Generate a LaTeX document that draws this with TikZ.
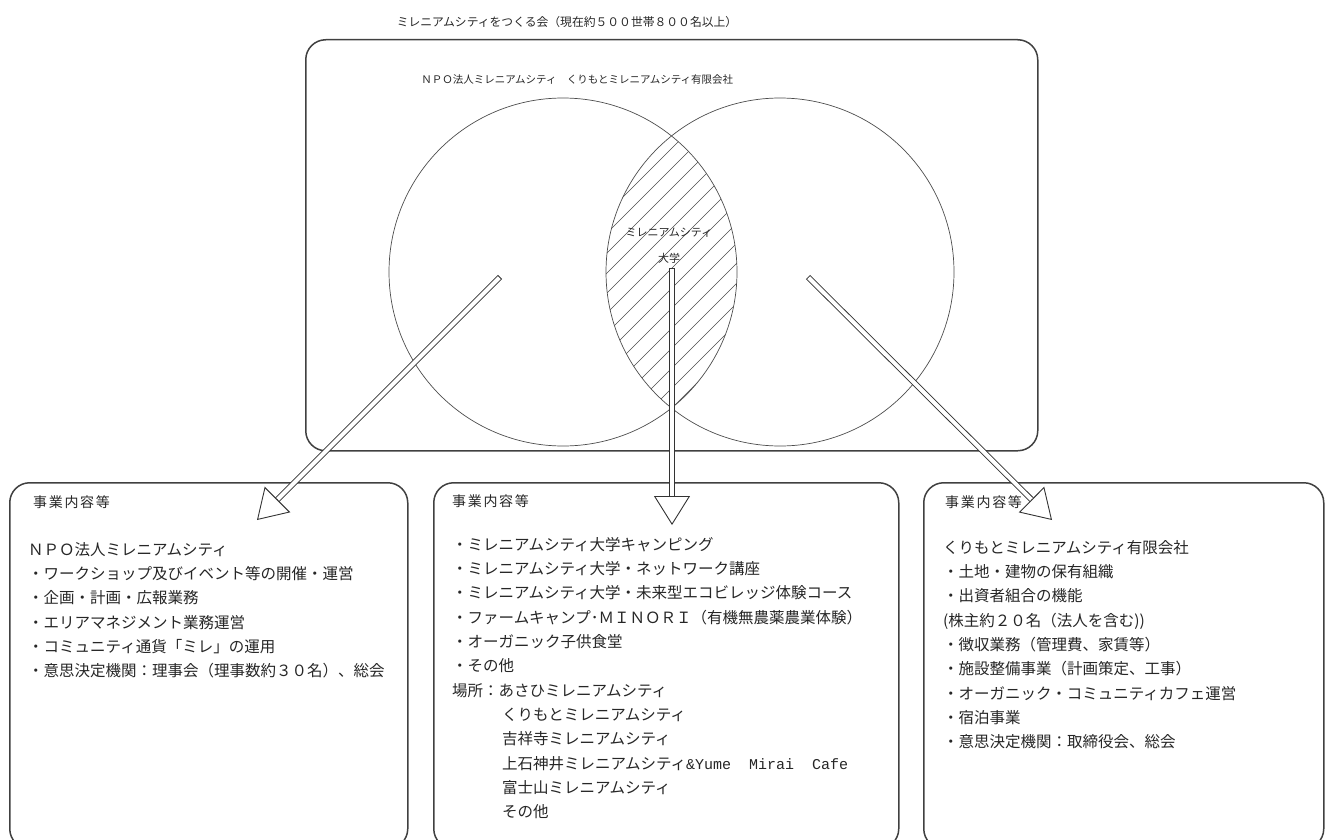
\documentclass[tikz,border=0pt]{standalone}
\usepackage{fontspec}
\setmainfont{Noto Sans CJK JP}
\setmonofont{Liberation Mono}
\usetikzlibrary{arrows.meta,calc}

\tikzset{
  bizframe/.style={draw=black!75, line width=1.5pt, rounded corners=20pt, minimum width=#1, inner sep=0pt, anchor=north west},
  ring/.style={draw=black!70, line width=0.7pt, circle, minimum size=348pt, inner sep=0pt},
  hatch/.style={draw=black!70, line width=0.6pt},
  hollowshaft/.style={draw=black!80, line width=5.8pt, postaction={draw=white, line width=4pt, shorten <=0.9pt}},
  tipline/.style={draw=black!80, line width=0.9pt, -{Triangle[length=29pt,width=36pt,fill=white]}},
  heading/.style={anchor=west, inner sep=0pt, text=black!85, font=\fontsize{14}{16}\selectfont\addfontfeatures{LetterSpace=12}},
  items/.style={anchor=north west, inner sep=0pt, align=left, text=black!85, font=\fontsize{15.5}{24.3}\selectfont},
  small/.style={inner sep=0pt, text=black!85, font=\fontsize{10.5}{13}\selectfont},
}

\begin{document}
\begin{tikzpicture}[x=1pt,y=-1pt]
  \useasboundingbox (0,0) rectangle (1330,840);

  % the association and its two bodies
  \node[small, font=\fontsize{11.8}{14}\selectfont] (assoctitle) at (567,22) {ミレニアムシティをつくる会（現在約５００世帯８００名以上）};
  \node[bizframe=732pt, minimum height=411pt] (assocbox) at (305,39) {};

  \node[ring] (npocircle) at (563,272) {};
  \node[ring] (corpcircle) at (780,272) {};

  \begin{scope}
    \clip (npocircle.center) circle (174pt);
    \clip (corpcircle.center) circle (174pt);
    \foreach \c in {740,760,...,1160}
      \draw[hatch] (\c-450,450) -- (\c-100,100);
  \end{scope}

  \node[small] (npolabel) at (489,80) {ＮＰＯ法人ミレニアムシティ};
  \node[small] (corplabel) at (650,80) {くりもとミレニアムシティ有限会社};
  \node[small, font=\fontsize{11}{26}\selectfont, align=center] (unilabel) at (669,246) {ミレニアムシティ\\大学};

  % the three fields of work
  \node[bizframe=398pt, minimum height=366pt] (npobox) at (9,482) {};
  \node[bizframe=465pt, minimum height=366pt] (unibox) at (433,482) {};
  \node[bizframe=400pt, minimum height=366pt] (corpbox) at (923,482) {};

  \node[heading] (npohead) at (33,502) {事業内容等};
  \node[heading] (unihead) at (452,501) {事業内容等};
  \node[heading] (corphead) at (945,502) {事業内容等};

  \node[items] (npoitems) at (28,542) {ＮＰＯ法人ミレニアムシティ\\
    ・ワークショップ及びイベント等の開催・運営\\
    ・企画・計画・広報業務\\
    ・エリアマネジメント業務運営\\
    ・コミュニティ通貨「ミレ」の運用\\
    ・意思決定機関：理事会（理事数約３０名）、総会};

  \node[items] (uniitems) at (452,537) {・ミレニアムシティ大学キャンピング\\
    ・ミレニアムシティ大学・ネットワーク講座\\
    ・ミレニアムシティ大学・未来型エコビレッジ体験コース\\
    ・ファームキャンプ･ＭＩＮＯＲＩ（有機無農薬農業体験）\\
    ・オーガニック子供食堂\\
    ・その他\\
    場所：あさひミレニアムシティ\\
    \hspace*{50pt}くりもとミレニアムシティ\\
    \hspace*{50pt}吉祥寺ミレニアムシティ\\
    \hspace*{50pt}上石神井ミレニアムシティ{\ttfamily\fontsize{15}{24.3}\selectfont\&Yume\ \ Mirai\ \ Cafe}\\
    \hspace*{50pt}富士山ミレニアムシティ\\
    \hspace*{50pt}その他};

  \node[items] (corpitems) at (943,540) {くりもとミレニアムシティ有限会社\\
    ・土地・建物の保有組織\\
    ・出資者組合の機能\\
    (株主約２０名（法人を含む))\\
    ・徴収業務（管理費、家賃等）\\
    ・施設整備事業（計画策定、工事）\\
    ・オーガニック・コミュニティカフェ運営\\
    ・宿泊事業\\
    ・意思決定機関：取締役会、総会};

  % hollow arrows
  \coordinate (npostart) at (500,277);
  \coordinate (npotip) at (257,520);
  \coordinate (unistart) at (672,268);
  \coordinate (unitip) at (672,525);
  \coordinate (corpstart) at (808,277);
  \coordinate (corptip) at (1052,520);

  \draw[hollowshaft] (npostart) -- ($(npotip)!27pt!(npostart)$);
  \draw[tipline] ($(npotip)!29pt!(npostart)$) -- (npotip);
  \draw[hollowshaft] (unistart) -- ($(unitip)!27pt!(unistart)$);
  \draw[tipline] ($(unitip)!29pt!(unistart)$) -- (unitip);
  \draw[hollowshaft] (corpstart) -- ($(corptip)!27pt!(corpstart)$);
  \draw[tipline] ($(corptip)!29pt!(corpstart)$) -- (corptip);

\end{tikzpicture}
\end{document}
